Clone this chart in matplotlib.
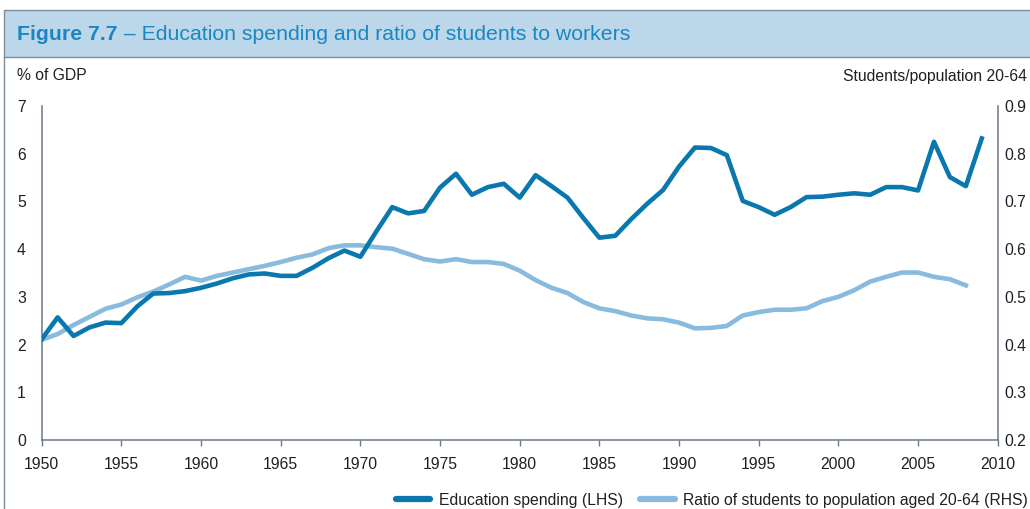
import matplotlib
matplotlib.use("Agg")
import matplotlib.pyplot as plt
from matplotlib.patches import Rectangle
from matplotlib.lines import Line2D
from matplotlib.transforms import ScaledTranslation

plt.rcParams['font.family'] = ['Liberation Sans', 'DejaVu Sans']

years_edu = list(range(1950, 2010))
edu_spending = [2.11, 2.57, 2.18, 2.36, 2.46, 2.45, 2.80, 3.07, 3.08, 3.12,
                3.19, 3.28, 3.39, 3.47, 3.49, 3.44, 3.44, 3.61, 3.81, 3.97,
                3.84, 4.37, 4.88, 4.75, 4.80, 5.29, 5.58, 5.14, 5.30, 5.37,
                5.08, 5.55, 5.32, 5.08, 4.65, 4.24, 4.28, 4.63, 4.95, 5.24,
                5.73, 6.13, 6.12, 5.97, 5.01, 4.88, 4.72, 4.88, 5.09, 5.10,
                5.14, 5.17, 5.14, 5.30, 5.30, 5.23, 6.25, 5.51, 5.32, 6.32]

years_ratio = list(range(1950, 2009))
student_ratio = [0.410, 0.422, 0.441, 0.458, 0.475, 0.484, 0.499, 0.511, 0.526, 0.542,
                 0.534, 0.544, 0.551, 0.558, 0.565, 0.573, 0.582, 0.589, 0.602, 0.608,
                 0.608, 0.604, 0.601, 0.590, 0.579, 0.574, 0.579, 0.573, 0.573, 0.569,
                 0.555, 0.535, 0.519, 0.508, 0.489, 0.476, 0.470, 0.461, 0.455, 0.453,
                 0.446, 0.434, 0.435, 0.439, 0.461, 0.468, 0.473, 0.473, 0.476, 0.491,
                 0.500, 0.514, 0.532, 0.542, 0.551, 0.551, 0.542, 0.537, 0.524]

x_ticks = list(range(1950, 2011, 5))
left_ticks = [0, 1, 2, 3, 4, 5, 6, 7]
right_ticks = [0.2, 0.3, 0.4, 0.5, 0.6, 0.7, 0.8, 0.9]

DARK = '#0A78AE'
LIGHT = '#88BBDD'
AXC = '#6B7885'
TXT = '#231F20'
TITLE_C = '#1A87C2'
FS = 11.3
TFS = 15.3

W, H = 1030, 509
fig = plt.figure(figsize=(W / 100, H / 100), dpi=100)

def fx(px):
    return px / W

def fy(py):
    return 1 - py / H

# title bar
fig.patches.append(Rectangle((fx(4), fy(57)), 1.05 - fx(4), fy(10) - fy(57),
                             transform=fig.transFigure, facecolor='#BDD7EA',
                             edgecolor='#7F8C99', linewidth=1.0, zorder=0))
fig.lines.append(Line2D([fx(4), fx(4)], [0, fy(57)], transform=fig.transFigure,
                        color='#7F8C99', linewidth=1.0))
t1 = fig.text(fx(17), fy(34), 'Figure 7.7', fontsize=TFS, fontweight='bold',
              color=TITLE_C, va='center', ha='left')
fig.canvas.draw()
bb = t1.get_window_extent()
fig.text(bb.x1 / W, fy(34), ' \u2013 Education spending and ratio of students to workers',
         fontsize=TFS, color=TITLE_C, va='center', ha='left')

left, right, top, bottom = 41.7, 997.7, 106, 440
ax = fig.add_axes([fx(left), fy(bottom), fx(right) - fx(left), fy(top) - fy(bottom)])
ax2 = ax.twinx()

ax.plot(years_edu, edu_spending, color=DARK, lw=3.3, zorder=3)
ax2.plot(years_ratio, student_ratio, color=LIGHT, lw=3.3, zorder=2)
ax.set_zorder(ax2.get_zorder() + 1)
ax.patch.set_visible(False)

ax.set_xlim(1950, 2010)
ax.set_ylim(0, 7)
ax2.set_ylim(0.2, 0.9)
ax.set_xticks(x_ticks)
ax.set_yticks(left_ticks)
ax2.set_yticks(right_ticks)
ax2.set_yticklabels([f'{v:.1f}' for v in right_ticks])

for a in (ax, ax2):
    a.spines['top'].set_visible(False)
    for s in ('left', 'right', 'bottom'):
        a.spines[s].set_color(AXC)
        a.spines[s].set_linewidth(1.1)
ax.spines['right'].set_visible(False)
ax2.spines['left'].set_visible(False)
ax2.spines['bottom'].set_visible(False)

ax.tick_params(axis='x', length=4, width=1, color=AXC, pad=8, labelsize=FS, labelcolor=TXT)
ax.tick_params(axis='y', length=0, pad=0, labelsize=FS, labelcolor=TXT)
for lbl in ax.get_yticklabels():
    lbl.set_horizontalalignment('left')
    lbl.set_transform(lbl.get_transform() + ScaledTranslation(-(left - 17) / 100, 0, fig.dpi_scale_trans))
ax2.tick_params(axis='y', length=0, pad=5, labelsize=FS, labelcolor=TXT)

fig.text(fx(17), fy(76), '% of GDP', fontsize=FS, color=TXT, ha='left', va='center')
fig.text(fx(1027), fy(76), 'Students/population 20-64', fontsize=FS, color=TXT,
         ha='right', va='center')

handles = [Line2D([], [], color=DARK, lw=4.5, solid_capstyle='round'),
           Line2D([], [], color=LIGHT, lw=4.5, solid_capstyle='round')]
fig.legend(handles, ['Education spending (LHS)', 'Ratio of students to population aged 20-64 (RHS)'],
           loc='center right', bbox_to_anchor=(fx(1028), fy(500)), ncol=2, frameon=False,
           fontsize=FS, handlelength=2.2, handletextpad=0.55, columnspacing=1.1,
           borderpad=0, borderaxespad=0, labelcolor=TXT)

fig.savefig('out.png', dpi=100)
